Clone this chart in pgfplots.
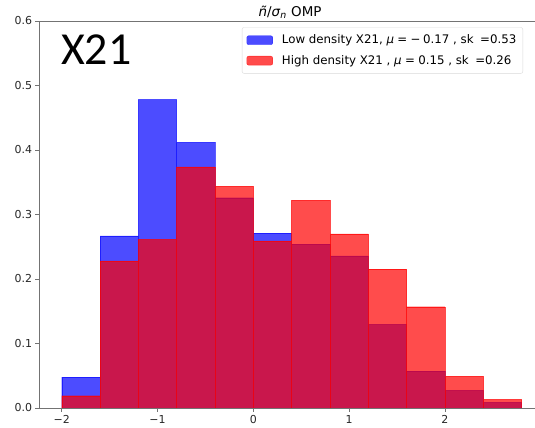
\documentclass[border=0pt]{standalone}
\usepackage{fontspec}
\setmainfont{DejaVu Sans}
\newfontfamily\carlito{Carlito}
\usepackage{pgfplots}
\pgfplotsset{compat=1.18}
\begin{document}
\begin{tikzpicture}
\begin{axis}[
  scale only axis, width=496bp, height=387bp,
  xmin=-2.237, xmax=2.94, ymin=0, ymax=0.6,
  axis x line*=bottom, axis y line*=left,
  axis line style={-, black!55},
  tick align=outside, major tick length=3.5bp,
  tick style={black!55, line width=0.6pt},
  xtick={-2,-1,0,1,2}, xticklabels={−2,−1,0,1,2},
  ytick={0,0.1,0.2,0.3,0.4,0.5,0.6},
  yticklabels={0.0,0.1,0.2,0.3,0.4,0.5,0.6},
  tick label style={font=\fontsize{11}{13}\selectfont, text=black!85},
  legend cell align=left,
  legend style={at={(0.409,0.9837)}, anchor=north west, draw=black!15,
    rounded corners=2bp, fill=white, fill opacity=0.8, text opacity=1,
    font=\fontsize{11.85}{13}\selectfont, row sep=6bp, inner xsep=4.5bp, inner ysep=5.5bp},
]
\addplot[ybar interval, fill=blue, fill opacity=0.7, draw=blue, draw opacity=0.6, line width=0.4pt,
  legend image code/.code={\fill[blue, fill opacity=0.7] (0bp,-4.5bp) rectangle (26bp,4.5bp); \path (33bp,0bp);}]
coordinates {(-2,0.0477) (-1.6,0.267) (-1.2,0.478) (-0.8,0.412) (-0.4,0.326) (0,0.271)
 (0.4,0.254) (0.8,0.236) (1.2,0.1295) (1.6,0.057) (2.0,0.0275) (2.4,0.0088) (2.8,0.0088)};
\addlegendentry{Low density X21, \textit{μ}\hspace{0.28em}=\hspace{0.28em}−\hspace{0.22em}0.17 , sk\hspace{0.55em}=0.53}
\addplot[ybar interval, fill=red, fill opacity=0.7, draw=red, draw opacity=0.7, line width=0.4pt,
  legend image code/.code={\fill[red, fill opacity=0.7] (0bp,-4.5bp) rectangle (26bp,4.5bp); \path (33bp,0bp);}]
coordinates {(-2,0.019) (-1.6,0.228) (-1.2,0.261) (-0.8,0.374) (-0.4,0.3435) (0,0.259)
 (0.4,0.322) (0.8,0.270) (1.2,0.2155) (1.6,0.157) (2.0,0.049) (2.4,0.013) (2.8,0.013)};
\addlegendentry{High density X21 , \textit{μ}\hspace{0.28em}=\hspace{0.28em}0.15 , sk\hspace{0.55em}=0.26}
\draw[black!55, line width=0.6pt] (rel axis cs:0,1) -- (rel axis cs:1,1);
\end{axis}
\node[anchor=base, font=\fontsize{13.5}{15}\selectfont] at (251bp,391.5bp) {\textit{ñ}/\textit{σ}\textsubscript{\textit{n}} OMP};
\node[anchor=base west, inner sep=0pt] at (22bp,343bp) {\carlito\fontsize{46}{46}\selectfont X21};
\pgfresetboundingbox
\path[use as bounding box] (-39bp,-20bp) rectangle (496bp,408bp);
\end{tikzpicture}
\end{document}
